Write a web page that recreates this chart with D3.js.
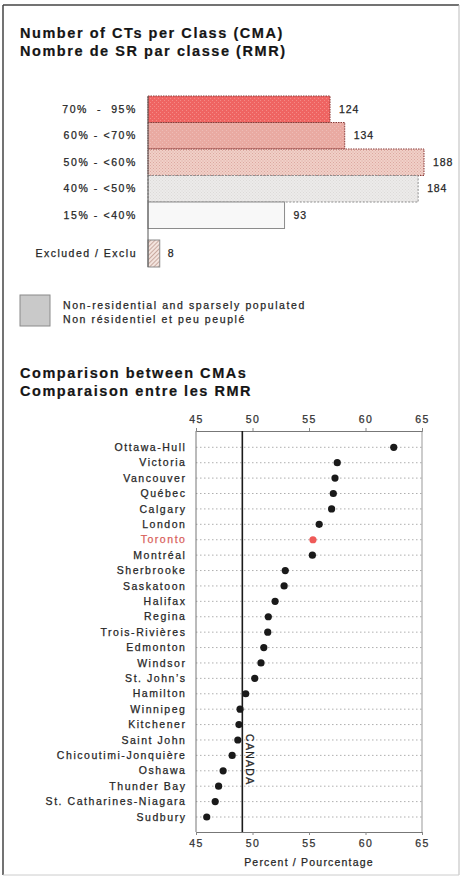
<!DOCTYPE html>
<html><head><meta charset="utf-8">
<script src="https://cdn.jsdelivr.net/npm/d3@7"></script>
<style>
body{margin:0;background:#fff;}
text{font-family:"Liberation Sans",Arial,sans-serif;fill:#262626;stroke:#262626;stroke-width:0.25px;}
</style></head>
<body>
<script>
// ---- Data ----
const classLabels = ["70%  -  95%", "60% - <70%", "50% - <60%", "40% - <50%", "15% - <40%"];
const classCounts = [124, 134, 188, 184, 93];
const excludedLabel = "Excluded / Exclu";
const excludedCount = 8;

const cities = ["Ottawa-Hull","Victoria","Vancouver","Québec","Calgary","London","Toronto","Montréal",
  "Sherbrooke","Saskatoon","Halifax","Regina","Trois-Rivières","Edmonton","Windsor","St. John’s",
  "Hamilton","Winnipeg","Kitchener","Saint John","Chicoutimi-Jonquière","Oshawa","Thunder Bay",
  "St. Catharines-Niagara","Sudbury"];
const cityValues = [62.5,57.5,57.3,57.15,57.0,55.9,55.35,55.3,52.9,52.8,52.0,51.4,51.35,51.0,50.75,50.2,
  49.4,48.9,48.8,48.7,48.2,47.4,47.0,46.7,45.95];
const highlightCity = "Toronto";
const canadaValue = 49.1;
const xTicks = [45, 50, 55, 60, 65];

(function(){
const W = 461, H = 879;
const svg = d3.select("body").append("svg").attr("width", W).attr("height", H);

// frame
svg.append("line").attr("x1",3).attr("x2",3).attr("y1",5).attr("y2",875).attr("stroke","#444").attr("stroke-width",1.5);
svg.append("line").attr("x1",3).attr("x2",459).attr("y1",5).attr("y2",5).attr("stroke","#444").attr("stroke-width",1.5);
svg.append("line").attr("x1",459).attr("x2",459).attr("y1",5).attr("y2",875).attr("stroke","#bbb").attr("stroke-width",1);
svg.append("line").attr("x1",3).attr("x2",459).attr("y1",875).attr("y2",875).attr("stroke","#ccc").attr("stroke-width",1);

// patterns
const defs = svg.append("defs");
function dotPattern(id, bg, dot, size){
  const p = defs.append("pattern").attr("id",id).attr("patternUnits","userSpaceOnUse").attr("width",size).attr("height",size);
  p.append("rect").attr("width",size).attr("height",size).attr("fill",bg);
  p.append("rect").attr("x",0).attr("y",0).attr("width",1).attr("height",1).attr("fill",dot);
  p.append("rect").attr("x",size/2).attr("y",size/2).attr("width",1).attr("height",1).attr("fill",dot);
}
dotPattern("p0","#ef6462","#f48a86",4);
dotPattern("p1","#e9aaa2","#eebcb6",4);
dotPattern("p2","#f1d0c8","#dca8a0",3);
dotPattern("p3","#ecebea","#dddad8",3);
const hatch = defs.append("pattern").attr("id","hatch").attr("patternUnits","userSpaceOnUse")
  .attr("width",3).attr("height",3).attr("patternTransform","rotate(45)");
hatch.append("rect").attr("width",3).attr("height",3).attr("fill","#f3e4de");
hatch.append("rect").attr("width",1).attr("height",3).attr("fill","#c9aaa0");

const fills = ["url(#p0)","url(#p1)","url(#p2)","url(#p3)","#f8f8f8"];
const strokes = ["#8a3b38","#8a3b38","#8a3b38","#8c8c8c","#8c8c8c"];
const dashes = ["1.5,1","1.5,1","1.5,1","2,1.5",null];

function styleText(sel, size, ls, color){
  sel.attr("font-size",size).attr("letter-spacing",ls);
  if(color) sel.style("fill",color).style("stroke",color);
  return sel;
}

// ---- Titles ----
function title(lines, x, y0, dy){
  lines.forEach((t,i)=>styleText(svg.append("text").attr("x",x).attr("y",y0+i*dy).text(t)
    .attr("font-weight","bold"), 14.5, 1.55, "#151515").style("stroke-width","0.2px"));
}
title(["Number of CTs per Class (CMA)","Nombre de SR par classe (RMR)"], 20, 38, 18);

// ---- Bar chart ----
const bx = d3.scaleLinear().domain([0, 188]).range([148, 424]);
const by = d3.scaleBand().domain(classLabels).range([96, 96 + 26.5*classLabels.length]).paddingInner(0);
const exGap = 11.5;
const exY = by.range()[1] + exGap;
const exH = by.bandwidth() + 0.5;

const bars = svg.append("g");
classLabels.forEach((lab,i)=>{
  bars.append("rect").attr("x",bx(0)).attr("y",by(lab)).attr("width",bx(classCounts[i])-bx(0)).attr("height",by.bandwidth())
    .attr("fill",fills[i]).attr("stroke",strokes[i]).attr("stroke-width",1).attr("stroke-dasharray",dashes[i]);
  styleText(bars.append("text").attr("x",bx(classCounts[i])+9).attr("y",by(lab)+by.bandwidth()/2).attr("dy","0.35em")
    .text(classCounts[i]), 10.5, 0.9);
  styleText(bars.append("text").attr("x",137).attr("y",by(lab)+by.bandwidth()/2).attr("dy","0.35em").attr("text-anchor","end")
    .style("white-space","pre").text(lab), 10.5, 1.6);
});
bars.append("rect").attr("x",bx(0)).attr("y",exY).attr("width",bx(excludedCount)-bx(0)).attr("height",exH)
  .attr("fill","url(#hatch)").attr("stroke","#8c8c8c").attr("stroke-width",1);
styleText(bars.append("text").attr("x",bx(excludedCount)+8).attr("y",exY+exH/2).attr("dy","0.35em")
  .text(excludedCount), 10.5, 0);
styleText(bars.append("text").attr("x",137).attr("y",exY+exH/2).attr("dy","0.35em").attr("text-anchor","end")
  .text(excludedLabel), 10.5, 1.5);
bars.append("line").attr("x1",bx(0)).attr("x2",bx(0)).attr("y1",by.range()[0]).attr("y2",exY+exH)
  .attr("stroke","#555").attr("stroke-width",1);

// legend
svg.append("rect").attr("x",20).attr("y",295).attr("width",30).attr("height",31)
  .attr("fill","#c9c9c9").attr("stroke","#8a8a8a").attr("stroke-width",1);
styleText(svg.append("text").attr("x",63).attr("y",308.5).text("Non-residential and sparsely populated"), 10.5, 1.6);
styleText(svg.append("text").attr("x",63).attr("y",322.5).text("Non résidentiel et peu peuplé"), 10.5, 1.6);

// ---- Dot chart ----
title(["Comparison between CMAs","Comparaison entre les RMR"], 20, 378, 17.5);

const x = d3.scaleLinear().domain([45, 65]).range([196, 422]);
const y = d3.scalePoint().domain(cities).range([447.3, 817]);
const yTop = 431, yBottom = 832;

// gridlines
svg.append("g").selectAll("line").data(cities).join("line")
  .attr("x1",x(45)).attr("x2",x(65)).attr("y1",d=>y(d)).attr("y2",d=>y(d))
  .attr("stroke","#9a9a9a").attr("stroke-width",0.8).attr("stroke-dasharray","1.5,2.5");

// frame sides
svg.append("line").attr("x1",x(45)).attr("x2",x(45)).attr("y1",yTop).attr("y2",yBottom).attr("stroke","#777").attr("stroke-width",1);
svg.append("line").attr("x1",x(65)).attr("x2",x(65)).attr("y1",yTop).attr("y2",yBottom).attr("stroke","#999").attr("stroke-width",1);

// axes
const axT = svg.append("g").attr("transform",`translate(0,${yTop})`)
  .call(d3.axisTop(x).tickValues(xTicks).tickSize(3).tickPadding(5));
const axB = svg.append("g").attr("transform",`translate(0,${yBottom})`)
  .call(d3.axisBottom(x).tickValues(xTicks).tickSize(3).tickPadding(5));
[axT, axB].forEach(a=>{
  a.select(".domain").attr("stroke","#777");
  a.selectAll(".tick line").attr("stroke","#888");
  a.selectAll(".tick text").attr("font-family","Liberation Sans, Arial, sans-serif").attr("font-size",10.5)
    .attr("letter-spacing",1.3).style("fill","#333").style("stroke","#333");
});

// Canada line
svg.append("line").attr("x1",x(canadaValue)).attr("x2",x(canadaValue)).attr("y1",yTop).attr("y2",yBottom)
  .attr("stroke","#1a1a1a").attr("stroke-width",1.6);
styleText(svg.append("text").attr("transform",`translate(${x(canadaValue)+4},${734}) rotate(90)`)
  .text("CANADA"), 10.5, 1.3);

// city labels
svg.append("g").selectAll("text").data(cities).join("text")
  .attr("x",186.5).attr("y",d=>y(d)).attr("dy","0.35em").attr("text-anchor","end")
  .attr("font-size",10.5).attr("letter-spacing",1.55)
  .style("fill",d=>d===highlightCity?"#d9615c":"#262626")
  .style("stroke",d=>d===highlightCity?"#d9615c":"#262626").text(d=>d);

// dots
svg.append("g").selectAll("circle").data(cities).join("circle")
  .attr("cx",(d,i)=>x(cityValues[i])).attr("cy",d=>y(d)).attr("r",3.6)
  .attr("fill",d=>d===highlightCity?"#ef5a58":"#1a1a1a");

styleText(svg.append("text").attr("x",(x(45)+x(65))/2).attr("y",866).attr("text-anchor","middle")
  .text("Percent / Pourcentage"), 10.5, 1.2);
})();
</script>
</body></html>
